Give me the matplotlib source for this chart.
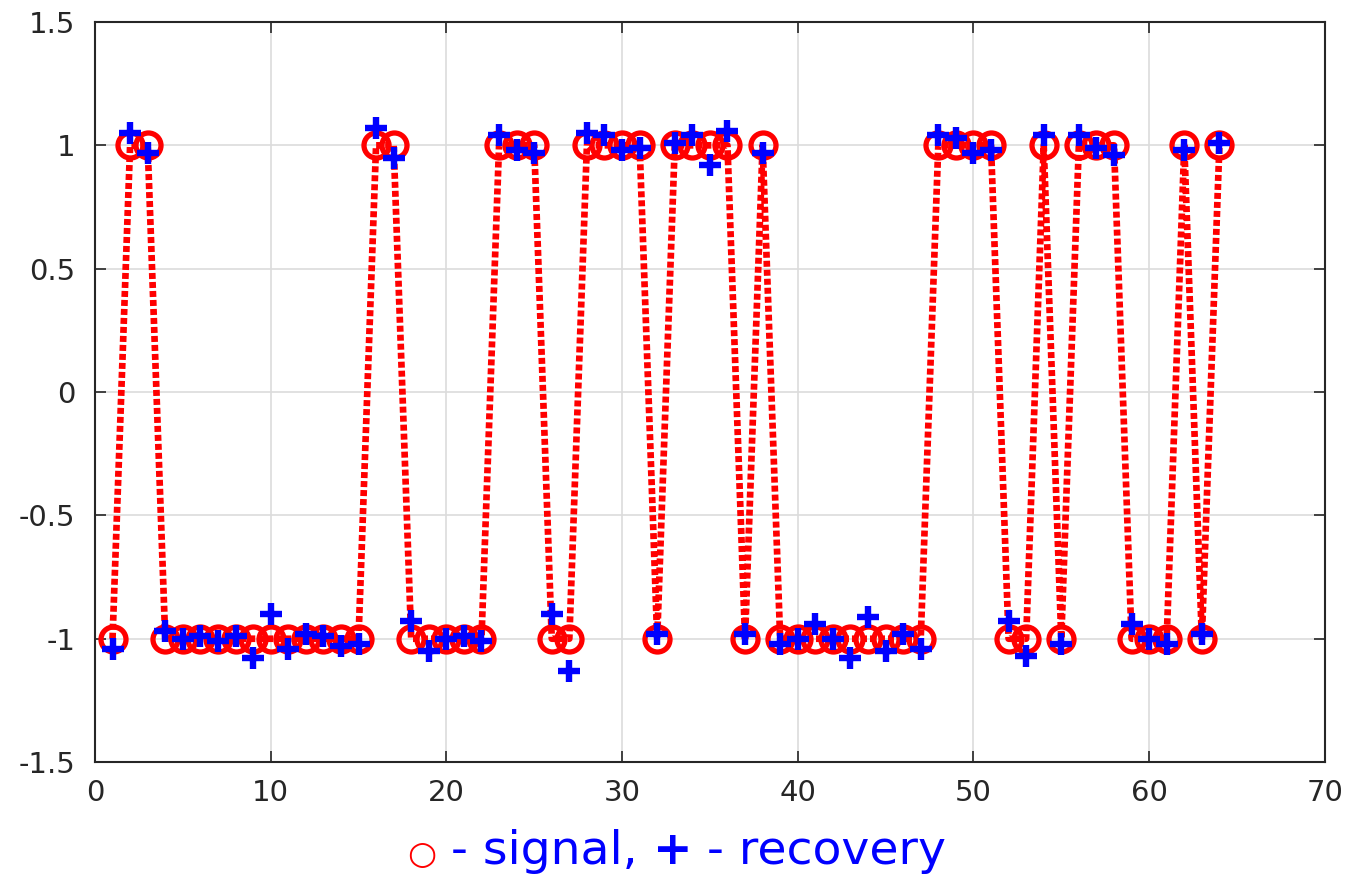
import numpy as np
import matplotlib
matplotlib.use("Agg")
import matplotlib.pyplot as plt
from matplotlib.offsetbox import TextArea, HPacker, AnchoredOffsetbox

plt.rcParams['axes.unicode_minus'] = False
plt.rcParams['font.family'] = ['DejaVu Sans']

# sample index
n = np.arange(1, 65)

# original +/-1 signal
signal = [-1, 1, 1, -1, -1, -1, -1, -1, -1, -1, -1, -1, -1, -1, -1, 1,
          1, -1, -1, -1, -1, -1, 1, 1, 1, -1, -1, 1, 1, 1, 1, -1,
          1, 1, 1, 1, -1, 1, -1, -1, -1, -1, -1, -1, -1, -1, -1, 1,
          1, 1, 1, -1, -1, 1, -1, 1, 1, 1, -1, -1, -1, 1, -1, 1]

# recovered values
recovery = [-1.04, 1.05, 0.97, -0.97, -1.00, -0.99, -1.01, -0.99, -1.08, -0.90,
            -1.04, -0.98, -0.99, -1.03, -1.02, 1.07, 0.95, -0.93, -1.05, -1.00,
            -0.99, -1.01, 1.04, 0.98, 0.97, -0.90, -1.13, 1.05, 1.04, 0.98,
            0.99, -0.98, 1.01, 1.04, 0.92, 1.06, -0.98, 0.97, -1.02, -1.00,
            -0.94, -1.00, -1.08, -0.91, -1.05, -0.98, -1.04, 1.04, 1.03, 0.97,
            0.98, -0.93, -1.07, 1.04, -1.02, 1.04, 0.99, 0.96, -0.94, -1.00,
            -1.02, 0.98, -0.98, 1.01]

fig = plt.figure(figsize=(13.45, 8.8), dpi=100)
ax = fig.add_axes([0.0706, 0.134, 0.9144, 0.841])

ax.plot(n, signal, color='red', linestyle=(0, (0.9, 0.45)), linewidth=4.8,
        marker='o', markersize=18, markerfacecolor='none',
        markeredgecolor='red', markeredgewidth=3.8, zorder=3)
ax.plot(n, recovery, linestyle='none', marker='+', markersize=16,
        markeredgewidth=4.6, color='blue', zorder=4)

ax.set_xlim(0, 70)
ax.set_ylim(-1.5, 1.5)
ax.set_xticks(np.arange(0, 71, 10))
ax.set_yticks(np.arange(-1.5, 1.51, 0.5))
ax.set_yticklabels(['-1.5', '-1', '-0.5', '0', '0.5', '1', '1.5'])
ax.grid(True, color='#dcdcdc', linewidth=1.2)
ax.set_axisbelow(True)
ax.tick_params(direction='in', length=8, width=1.2, labelsize=21,
               top=True, right=True, colors='#262626')
ax.tick_params(axis='x', pad=12)
ax.tick_params(axis='y', pad=14)
for s in ax.spines.values():
    s.set_linewidth(1.5)
    s.set_color('#262626')

# legend-like caption under the axes
parts = [TextArea('\u25cb', textprops=dict(color='red', fontsize=24)),
         TextArea(' - signal, ', textprops=dict(color='blue', fontsize=34)),
         TextArea('+', textprops=dict(color='blue', fontsize=34, fontweight='bold')),
         TextArea(' - recovery', textprops=dict(color='blue', fontsize=34))]
box = HPacker(children=parts, align='baseline', pad=0, sep=0)
anch = AnchoredOffsetbox(loc='lower center', child=box, frameon=False,
                         bbox_to_anchor=(0.503, 0.0), bbox_transform=fig.transFigure,
                         borderpad=0.05)
fig.add_artist(anch)

fig.savefig('out.png', dpi=100)
